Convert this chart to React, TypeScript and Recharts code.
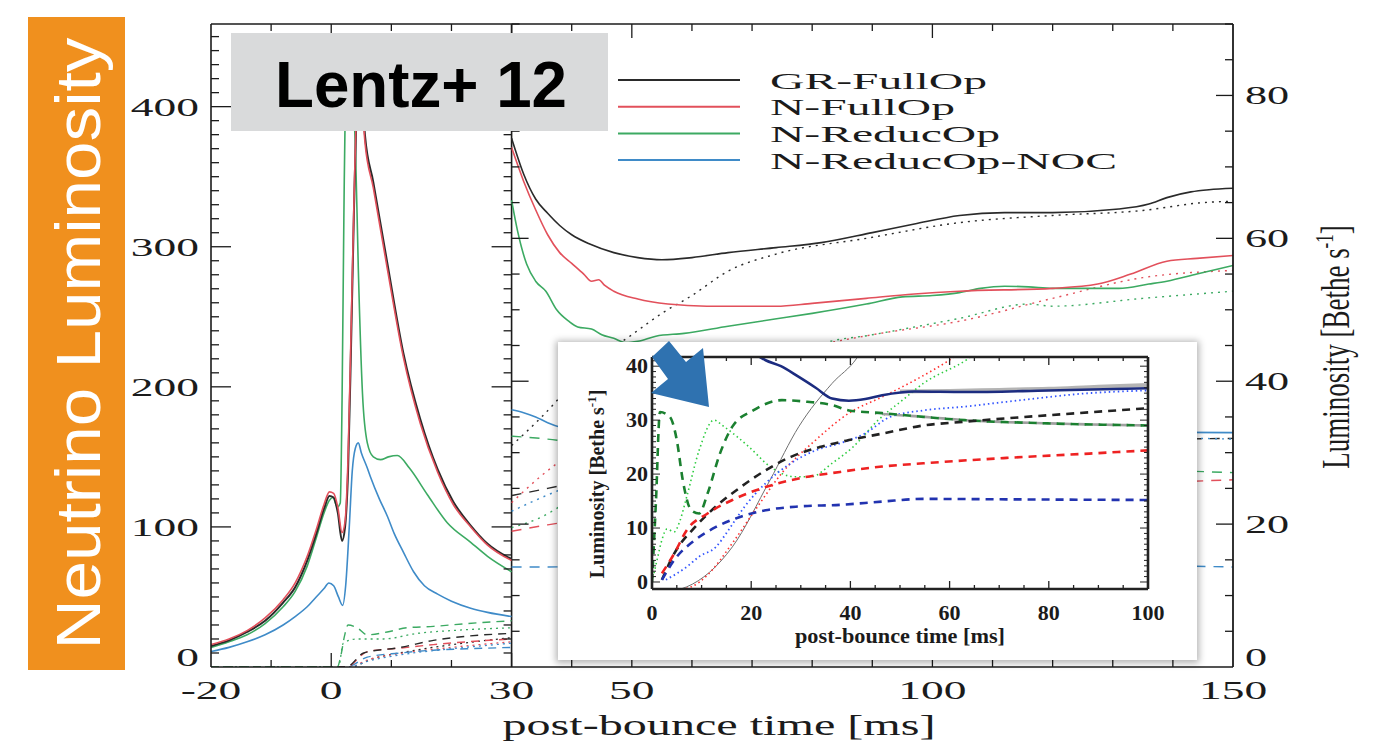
import React from 'react';
import { ComposedChart, LineChart, Line, XAxis, YAxis, ReferenceLine } from 'recharts';

type P = [number, number];

const SERIF = '"Liberation Serif", "Times New Roman", serif';
const SANS = '"Liberation Sans", Arial, Helvetica, sans-serif';
const INK = '#1b1b1b';

const C_BLACK = '#2a2a2a';
const C_RED = '#e2505b';
const C_GREEN = '#3caa62';
const C_BLUE = '#3f8bc8';

// legend
const LEGEND_NAMES = ['GR-FullOp', 'N-FullOp', 'N-ReducOp', 'N-ReducOp-NOC'];
const LEGEND_COLORS = [C_BLACK, C_RED, C_GREEN, C_BLUE];
const LEGEND_WIDTHS = [217, 185, 230, 347];

// axis ticks
const X_TICKS = [-20, -10, 0, 10, 20, 30, 40, 50, 60, 70, 80, 90, 100, 110, 120, 130, 140, 150];
const X_LABELS = [-20, 0, 30, 50, 100, 150];
const X_MAJOR = [0, 30, 50, 100];
const L_TICKS = Array.from({ length: 46 }, (_, i) => i * 10);
const L_LABELS = [0, 100, 200, 300, 400];
const R_TICKS = Array.from({ length: 19 }, (_, i) => i * 5);
const R_LABELS = [0, 20, 40, 60, 80];
const IN_X_TICKS = Array.from({ length: 21 }, (_, i) => i * 5);
const IN_X_LABELS = [0, 20, 40, 60, 80, 100];
const IN_Y_TICKS = Array.from({ length: 42 }, (_, i) => i);
const IN_Y_LABELS = [0, 10, 20, 30, 40];

// left panel, -20..30 ms (left axis)
const LP_GR_FULL: P[] = [[-20, 15], [-17, 19], [-14, 25], [-11, 33], [-8, 46], [-6, 57], [-4, 76], [-2.5, 95], [-1.2, 113], [-0.3, 122], [0.4, 121], [1.1, 110], [1.8, 90], [2.3, 100], [2.8, 140], [3.3, 230], [3.8, 330], [4.3, 410], [4.7, 440], [5.1, 415], [5.6, 380], [7, 346], [9.3, 289], [12, 224], [14.8, 177], [17.7, 141], [20.3, 118], [23.2, 101], [26, 88], [30, 77]];
const LP_N_FULL: P[] = [[-20, 16], [-17, 20], [-14, 26], [-11, 35], [-8, 48], [-6, 60], [-4, 79], [-2.5, 98], [-1.2, 116], [-0.3, 125], [0.4, 124], [1.1, 114], [1.8, 96], [2.3, 104], [2.8, 150], [3.3, 240], [3.8, 335], [4.3, 415], [4.7, 442], [5.1, 410], [5.6, 375], [7, 342], [9.3, 285], [12, 221], [14.8, 174], [17.7, 139], [20.3, 116], [23.2, 100], [26, 87], [30, 76]];
const LP_N_REDUC: P[] = [[-20, 14], [-17, 18], [-14, 23], [-11, 31], [-8, 43], [-6, 54], [-4, 72], [-2.5, 92], [-1.2, 110], [-0.3, 119], [0.3, 121], [1, 114], [1.5, 117], [1.8, 190], [2.1, 320], [2.4, 420], [2.8, 445], [3.2, 430], [3.6, 400], [4, 375], [4.5, 285], [5.2, 195], [6, 160], [7, 150], [8.2, 148], [9.5, 150], [11, 151], [13, 142], [16, 123], [19.3, 103], [23.2, 89], [26, 79], [30, 68]];
const LP_N_NOC: P[] = [[-20, 11], [-17, 14], [-14, 18], [-11, 23], [-8, 30], [-6, 36], [-4, 43], [-2.5, 50], [-1.2, 56], [-0.4, 60], [0.4, 58], [1.2, 50], [1.9, 44], [2.4, 58], [3, 100], [3.5, 140], [4, 156], [4.5, 160], [5, 153], [6, 142], [6.5, 136], [8, 120], [9.3, 108], [10.5, 95], [12, 82], [13.7, 68], [15.5, 58], [17.7, 52], [20, 47], [23.2, 42], [26, 39], [30, 36]];
const LP_GREEN_DASH: P[] = [[-20, 0], [1, 0], [1.6, 8], [2.2, 22], [2.8, 30], [4.3, 28], [6, 23], [9.3, 25], [12.6, 28], [17, 29], [22.6, 31], [30, 33]];
const LP_GREEN_DOT: P[] = [[-20, 0], [1.2, 0], [2, 17], [4.3, 20], [8.7, 20], [14.3, 24], [20, 26], [30, 28]];
const LP_BLACK_DASH: P[] = [[-20, 0], [2.5, 0], [5.4, 10], [11.5, 14], [17, 19], [22.6, 22], [30, 24]];
const LP_RED_DASH: P[] = [[-20, 0], [2.5, 0], [6, 11], [11.5, 13.5], [17, 16], [22.6, 18], [30, 20]];
const LP_BLUE_DASH: P[] = [[-20, 0], [2.5, 0], [6, 7], [11.5, 10], [17, 12], [22.6, 13], [30, 14]];
const LP_RED_DOT: P[] = [[-20, 0], [3, 0], [6, 5], [12, 10], [20, 14], [30, 18]];
const LP_BLUE_DOT: P[] = [[-20, 0], [3, 0], [6, 4], [12, 9], [20, 13], [30, 17]];
const LP_BLACK_DOT: P[] = [[-20, 0], [3, 0], [7, 6], [14, 12], [22, 17], [30, 21]];

// right panel, 30..150 ms (right axis, Bethe/s)
const RP_GR_FULL: P[] = [[30, 74], [32, 69], [34, 65.5], [36, 63.5], [38, 61.8], [40, 60.5], [43, 59.2], [47, 58], [51, 57.3], [55, 57], [60, 57.3], [66, 58], [74, 58.7], [81.5, 59.4], [90, 60.8], [97, 62], [104.5, 63.2], [112, 63.6], [120, 63.6], [131, 64.1], [136, 64.8], [139, 65.7], [143, 66.5], [146, 66.8], [150, 67]];
const RP_N_FULL: P[] = [[30, 72.7], [32, 68], [34, 64], [36, 60.5], [38, 58], [40, 56.5], [42, 55], [43.3, 54], [44.5, 54.2], [45.5, 53.4], [47, 52.6], [51, 51.5], [56, 50.8], [62.5, 50.5], [74, 50.5], [80, 50.9], [89, 51.6], [97, 52.2], [104.5, 52.6], [120, 53], [127.5, 53.6], [133, 55], [139, 56.8], [144, 57.2], [150, 57.6]];
const RP_N_REDUC: P[] = [[30, 65.3], [31, 61], [32.5, 56.4], [34, 54], [35.7, 52.6], [37.5, 50], [39.5, 48.4], [41, 47.6], [43.3, 47.3], [45, 46.5], [47, 46], [49, 45.4], [51, 45.6], [54, 46.3], [58.7, 46.7], [66, 47.7], [73.8, 48.7], [80, 49.5], [89, 50.8], [95, 51.8], [100, 52], [104.5, 52.4], [108, 53], [112, 53.3], [116, 53.2], [120, 53], [131, 53], [136, 53.6], [139, 54], [144, 55], [150, 56.2]];
const RP_N_NOC: P[] = [[30, 36], [32, 35.6], [34, 35], [36, 34.2], [38, 33.6], [40, 33.3], [45, 33.1], [60, 33], [100, 33], [150, 32.8]];
const RP_BLACK_DOT: P[] = [[30, 31], [35, 35], [40, 39.5], [45, 43.5], [50, 46.5], [55, 49.5], [60, 52], [66, 55.4], [74, 57.8], [89, 60], [104.5, 62.2], [120, 63.2], [135, 63.9], [145, 65], [150, 65.2]];
const RP_RED_DOT: P[] = [[30, 23], [35, 26.8], [40, 30], [50, 35.5], [60, 39], [70, 42], [80, 44.8], [90, 46.5], [104.5, 48.4], [120, 51.6], [135, 54.5], [150, 55.5]];
const RP_GREEN_DOT: P[] = [[30, 19.5], [35, 21], [40, 23.5], [50, 28], [60, 33], [70, 38], [81.5, 45.2], [90, 46.5], [104.5, 48.8], [116, 50.8], [120, 50.5], [135, 51.6], [150, 52.6]];
const RP_BLUE_DOT: P[] = [[30, 21.8], [37.5, 24.6], [50, 28], [70, 31], [100, 32.5], [150, 31.9]];
const RP_BLACK_DASH: P[] = [[30, 24], [36, 25], [50, 27.5], [70, 29.5], [100, 31], [150, 32]];
const RP_RED_DASH: P[] = [[30, 19], [36, 19.9], [50, 21.5], [70, 23], [100, 24.5], [150, 26.2]];
const RP_GREEN_DASH: P[] = [[30, 32.3], [36, 31.9], [50, 30], [70, 29], [100, 28.5], [150, 27.2]];
const RP_BLUE_DASH: P[] = [[30, 14], [36, 14], [50, 14.5], [100, 14.5], [150, 14]];

// inset, 0..100 ms
const IN_NAVY: P[] = [[18, 44], [22.9, 41.1], [26, 40], [29.6, 38], [33, 36], [36.3, 34], [39.7, 33.6], [43, 33.9], [46.4, 34.6], [53, 35.3], [63, 35.2], [80, 35.5], [100, 35.9]];
const IN_GRAY_THICK: P[] = [[50, 35.3], [60, 35.4], [70, 35.6], [80, 35.8], [90, 36.2], [100, 36.5]];
const IN_GRAY_THIN: P[] = [[5, -1.5], [7, -0.9], [16.2, 6.5], [23.8, 18.9], [29.6, 28.8], [36.3, 36.8], [41.3, 41.5], [43, 44]];
const IN_RED_DOT: P[] = [[6, -1.3], [7.9, -0.9], [11.2, 1.3], [16.2, 7.2], [21.3, 14], [26.2, 20.2], [33, 26.3], [39.7, 31.3], [46.4, 34.3], [53, 37.4], [60.6, 41.5], [63, 43]];
const IN_GREEN_DOT: P[] = [[0, 0], [1, 4], [2, 7.8], [3, 9.8], [4.5, 9.3], [5.5, 11], [7, 15.8], [9.5, 24.4], [12.5, 30], [14.5, 28.8], [19.6, 25], [23.8, 21.4], [28.8, 19.5], [32.1, 19.5], [36.3, 22], [40.5, 25], [45.6, 30], [50.5, 33.7], [54.7, 36.8], [63.9, 41.5], [66, 43]];
const IN_BLUE_DOT: P[] = [[2.8, 0.4], [7, 2.8], [9.5, 4.7], [12.9, 6.5], [15.4, 9.6], [18.7, 14], [22.9, 18.3], [28, 22], [33, 24.4], [37.9, 25.7], [42.9, 27.5], [48, 30.6], [54.7, 31.8], [63, 32.5], [71.5, 33.4], [88.2, 35], [100, 35.5]];
const IN_GREEN_DASH: P[] = [[0, 0], [0.8, 15], [1.6, 31.5], [3.6, 30.6], [5, 26.3], [6.2, 18.9], [7.9, 13.3], [9.5, 12.7], [11.2, 16.4], [13.7, 23.8], [16.2, 28.8], [20.4, 31.8], [26.2, 33.7], [31.3, 33.4], [36.3, 32.8], [39.7, 31.8], [46.4, 31.3], [54.7, 30.6], [63, 30], [79.8, 29.4], [100, 29]];
const IN_GRAY_DASH: P[] = [[45, 31.2], [55, 30.6], [63, 30], [80, 29.4], [100, 29]];
const IN_BLACK_DASH: P[] = [[2, 0.4], [4.5, 5.3], [8.7, 10.2], [12.9, 14], [17.9, 17.6], [22.9, 20.7], [28, 23.2], [33.8, 25], [39.7, 26.3], [46.4, 27.5], [54.7, 29], [63, 29.7], [79.8, 30.9], [100, 32.2]];
const IN_RED_DASH: P[] = [[2, 1.6], [4.5, 5.3], [7, 9.6], [11.2, 12.7], [16.2, 15.2], [22.9, 17.6], [29.6, 19.2], [37.9, 20.4], [46.4, 21.4], [54.7, 22], [71.5, 23], [88.2, 23.8], [100, 24.4]];
const IN_BLUE_DASH: P[] = [[2, 0.4], [4.5, 4.1], [8.7, 7.8], [12.9, 10.2], [17.9, 12.1], [22.9, 13.3], [29.6, 14], [37.9, 14.3], [46.4, 14.9], [54.7, 15.4], [75, 15.3], [100, 15.2]];

// layout
const W = 1380;
const H = 748;
const PLOT_L = 211;
const PLOT_R = 1233;
const PLOT_T = 24;
const PLOT_B = 667;
const X_MIN = -20;
const X_MAX = 150;
const DIV_X = PLOT_L + ((30 - X_MIN) / (X_MAX - X_MIN)) * (PLOT_R - PLOT_L);

const IN_LEFT = 558;
const IN_TOP = 342;
const IN_W = 639;
const IN_H = 318;

const toRows = (pts: P[]) => pts.map(([x, y]) => ({ x, y }));

type Series = { pts: P[]; axis: string; color: string; w: number; dash?: string; off?: number };

const MAIN_SERIES: Series[] = [
  { pts: LP_BLACK_DOT, axis: 'L', color: C_BLACK, w: 1.3, dash: '2 4' },
  { pts: LP_RED_DOT, axis: 'L', color: C_RED, w: 1.3, dash: '2 4' },
  { pts: LP_BLUE_DOT, axis: 'L', color: C_BLUE, w: 1.3, dash: '2 4' },
  { pts: LP_GREEN_DOT, axis: 'L', color: C_GREEN, w: 1.3, dash: '2 4' },
  { pts: LP_BLUE_DASH, axis: 'L', color: C_BLUE, w: 1.4, dash: '8 6' },
  { pts: LP_RED_DASH, axis: 'L', color: C_RED, w: 1.4, dash: '8 6' },
  { pts: LP_BLACK_DASH, axis: 'L', color: C_BLACK, w: 1.4, dash: '8 6' },
  { pts: LP_GREEN_DASH, axis: 'L', color: C_GREEN, w: 1.4, dash: '8 6' },
  { pts: LP_N_NOC, axis: 'L', color: C_BLUE, w: 1.6 },
  { pts: LP_N_REDUC, axis: 'L', color: C_GREEN, w: 1.6 },
  { pts: LP_GR_FULL, axis: 'L', color: C_BLACK, w: 2 },
  { pts: LP_N_FULL, axis: 'L', color: C_RED, w: 1.6 },
  { pts: RP_BLUE_DASH, axis: 'R', color: C_BLUE, w: 1.4, dash: '10 8' },
  { pts: RP_RED_DASH, axis: 'R', color: C_RED, w: 1.4, dash: '10 8' },
  { pts: RP_BLACK_DASH, axis: 'R', color: C_BLACK, w: 1.4, dash: '10 8' },
  { pts: RP_GREEN_DASH, axis: 'R', color: C_GREEN, w: 1.4, dash: '10 8' },
  { pts: RP_BLUE_DOT, axis: 'R', color: C_BLUE, w: 1.4, dash: '2 5' },
  { pts: RP_GREEN_DOT, axis: 'R', color: C_GREEN, w: 1.4, dash: '2 5' },
  { pts: RP_RED_DOT, axis: 'R', color: C_RED, w: 1.4, dash: '2 5' },
  { pts: RP_BLACK_DOT, axis: 'R', color: C_BLACK, w: 1.4, dash: '2 5' },
  { pts: RP_N_NOC, axis: 'R', color: C_BLUE, w: 1.6 },
  { pts: RP_N_REDUC, axis: 'R', color: C_GREEN, w: 1.6 },
  { pts: RP_N_FULL, axis: 'R', color: C_RED, w: 1.6 },
  { pts: RP_GR_FULL, axis: 'R', color: C_BLACK, w: 1.6 },
];

const INSET_SERIES: Series[] = [
  { pts: IN_GRAY_THICK, axis: 'l', color: '#b4b4b4', w: 4 },
  { pts: IN_GRAY_THIN, axis: 'l', color: '#707070', w: 1 },
  { pts: IN_RED_DOT, axis: 'l', color: '#ff3030', w: 1.6, dash: '1.5 3' },
  { pts: IN_GREEN_DOT, axis: 'l', color: '#2ecc40', w: 1.6, dash: '1.5 3' },
  { pts: IN_BLUE_DOT, axis: 'l', color: '#3355ff', w: 1.8, dash: '1.5 3' },
  { pts: IN_GRAY_DASH, axis: 'l', color: '#a0a0a0', w: 2.6, dash: '8 6', off: 7 },
  { pts: IN_GREEN_DASH, axis: 'l', color: '#1b8030', w: 2.6, dash: '8 6' },
  { pts: IN_BLACK_DASH, axis: 'l', color: '#222222', w: 2.6, dash: '8 6' },
  { pts: IN_RED_DASH, axis: 'l', color: '#ee2222', w: 2.6, dash: '8 6' },
  { pts: IN_BLUE_DASH, axis: 'l', color: '#2233b0', w: 2.6, dash: '8 6' },
  { pts: IN_NAVY, axis: 'l', color: '#1c2c80', w: 2.6 },
];

const BottomTick = (p: any) => {
  const v = p.payload.value;
  const edge = v === X_MIN || v === X_MAX;
  const len = X_MAJOR.includes(v) ? 14 : 7;
  return (
    <g>
      {!edge && <line x1={p.x} y1={p.y} x2={p.x} y2={p.y - len} stroke={INK} strokeWidth={1.3} />}
      {X_LABELS.includes(v) && (
        <text transform={`translate(${p.x},${p.y + 32}) scale(1.75,1)`} textAnchor="middle" fontFamily={SERIF} fontSize={26} fill={INK}>
          {v}
        </text>
      )}
    </g>
  );
};

const TopTick = (p: any) => {
  const v = p.payload.value;
  if (v === X_MIN || v === X_MAX) return <g />;
  const len = X_MAJOR.includes(v) ? 14 : 7;
  return <line x1={p.x} y1={p.y} x2={p.x} y2={p.y + len} stroke={INK} strokeWidth={1.3} />;
};

const LeftTick = (p: any) => {
  const v = p.payload.value;
  const len = v % 100 === 0 ? 20 : 8;
  return (
    <g>
      {v !== 0 && <line x1={p.x} y1={p.y} x2={p.x + len} y2={p.y} stroke={INK} strokeWidth={1.3} />}
      {v !== 0 && <line x1={DIV_X} y1={p.y} x2={DIV_X - len} y2={p.y} stroke={INK} strokeWidth={1.3} />}
      {L_LABELS.includes(v) && (
        <text transform={`translate(${p.x - 12},${p.y + 9 - (v === 0 ? 10 : 0)}) scale(1.75,1)`} textAnchor="end" fontFamily={SERIF} fontSize={26} fill={INK}>
          {v}
        </text>
      )}
    </g>
  );
};

const RightTick = (p: any) => {
  const v = p.payload.value;
  const len = v % 20 === 0 ? 17 : 8;
  return (
    <g>
      {v !== 0 && <line x1={p.x} y1={p.y} x2={p.x - len} y2={p.y} stroke={INK} strokeWidth={1.3} />}
      {v !== 0 && <line x1={DIV_X} y1={p.y} x2={DIV_X + len} y2={p.y} stroke={INK} strokeWidth={1.3} />}
      {R_LABELS.includes(v) && (
        <text transform={`translate(${p.x + 12},${p.y + 9 - (v === 0 ? 10 : 0)}) scale(1.7,1)`} textAnchor="start" fontFamily={SERIF} fontSize={26} fill={INK}>
          {v}
        </text>
      )}
    </g>
  );
};

const InBottomTick = (p: any) => {
  const v = p.payload.value;
  const len = v % 20 === 0 ? 8 : 4;
  return (
    <g>
      {v !== 0 && v !== 100 && <line x1={p.x} y1={p.y} x2={p.x} y2={p.y - len} stroke="#222" strokeWidth={1.3} />}
      {IN_X_LABELS.includes(v) && (
        <text transform={`translate(${p.x},${p.y + 31}) scale(1.1,1)`} textAnchor="middle" fontFamily={SERIF} fontSize={20} fontWeight="bold" fill={INK}>
          {v}
        </text>
      )}
    </g>
  );
};

const InTopTick = (p: any) => {
  const v = p.payload.value;
  if (v === 0 || v === 100) return <g />;
  const len = v % 20 === 0 ? 8 : 4;
  return <line x1={p.x} y1={p.y} x2={p.x} y2={p.y + len} stroke="#222" strokeWidth={1.3} />;
};

const InLeftTick = (p: any) => {
  const v = p.payload.value;
  const len = v % 10 === 0 ? 8 : 4;
  return (
    <g>
      <line x1={p.x} y1={p.y} x2={p.x + len} y2={p.y} stroke="#222" strokeWidth={1} />
      {IN_Y_LABELS.includes(v) && (
        <text transform={`translate(${p.x - 4},${p.y + 7}) scale(1.1,1)`} textAnchor="end" fontFamily={SERIF} fontSize={20} fontWeight="bold" fill={INK}>
          {v}
        </text>
      )}
    </g>
  );
};

const InRightTick = (p: any) => {
  const v = p.payload.value;
  const len = v % 10 === 0 ? 8 : 4;
  return <line x1={p.x} y1={p.y} x2={p.x - len} y2={p.y} stroke="#222" strokeWidth={1} />;
};

const renderLines = (list: Series[], xId: string) =>
  list.map((s, i) => (
    <Line
      key={i}
      data={toRows(s.pts)}
      dataKey="y"
      xAxisId={xId}
      yAxisId={s.axis}
      type="monotone"
      stroke={s.color}
      strokeWidth={s.w}
      strokeDasharray={s.dash}
      strokeDashoffset={s.off}
      dot={false}
      activeDot={false}
      isAnimationActive={false}
    />
  ));

const MainChart = () => (
  <ComposedChart width={W} height={H} margin={{ top: 0, right: 0, bottom: 0, left: 0 }}>
    <XAxis xAxisId="b" type="number" dataKey="x" domain={[X_MIN, X_MAX]} ticks={X_TICKS} interval={0} allowDataOverflow
      height={H - PLOT_B} tickSize={0} tickMargin={0} tickLine={false} axisLine={{ stroke: INK, strokeWidth: 1.6 }} tick={(p: any) => <BottomTick {...p} />} />
    <XAxis xAxisId="t" orientation="top" type="number" dataKey="x" domain={[X_MIN, X_MAX]} ticks={X_TICKS} interval={0} allowDataOverflow
      height={PLOT_T} tickSize={0} tickMargin={0} tickLine={false} axisLine={{ stroke: INK, strokeWidth: 1.6 }} tick={(p: any) => <TopTick {...p} />} />
    <YAxis yAxisId="L" orientation="left" type="number" domain={[0, 459]} ticks={L_TICKS} interval={0} allowDataOverflow
      width={PLOT_L} tickSize={0} tickMargin={0} tickLine={false} axisLine={{ stroke: INK, strokeWidth: 1.6 }} tick={(p: any) => <LeftTick {...p} />} />
    <YAxis yAxisId="R" orientation="right" type="number" domain={[0, 90]} ticks={R_TICKS} interval={0} allowDataOverflow
      width={W - PLOT_R} tickSize={0} tickMargin={0} tickLine={false} axisLine={{ stroke: INK, strokeWidth: 1.8 }} tick={(p: any) => <RightTick {...p} />} />
    <ReferenceLine xAxisId="b" yAxisId="L" x={30} stroke={INK} strokeWidth={1.6} />
    {renderLines(MAIN_SERIES, 'b')}
  </ComposedChart>
);

const InsetChart = () => (
  <LineChart width={IN_W} height={IN_H} margin={{ top: 0, right: 0, bottom: 0, left: 0 }}>
    <XAxis xAxisId="b" type="number" dataKey="x" domain={[0, 100]} ticks={IN_X_TICKS} interval={0} allowDataOverflow
      height={71} tickSize={0} tickMargin={0} tickLine={false} axisLine={{ stroke: '#222', strokeWidth: 2.6 }} tick={(p: any) => <InBottomTick {...p} />} />
    <XAxis xAxisId="t" orientation="top" type="number" dataKey="x" domain={[0, 100]} ticks={IN_X_TICKS} interval={0} allowDataOverflow
      height={15} tickSize={0} tickMargin={0} tickLine={false} axisLine={{ stroke: '#222', strokeWidth: 2.6 }} tick={(p: any) => <InTopTick {...p} />} />
    <YAxis yAxisId="l" orientation="left" type="number" domain={[-1.3, 41.7]} ticks={IN_Y_TICKS} interval={0} allowDataOverflow
      width={94} tickSize={0} tickMargin={0} tickLine={false} axisLine={{ stroke: '#222', strokeWidth: 2.6 }} tick={(p: any) => <InLeftTick {...p} />} />
    <YAxis yAxisId="r" orientation="right" type="number" domain={[-1.3, 41.7]} ticks={IN_Y_TICKS} interval={0} allowDataOverflow
      width={49} tickSize={0} tickMargin={0} tickLine={false} axisLine={{ stroke: '#222', strokeWidth: 2.6 }} tick={(p: any) => <InRightTick {...p} />} />
    {renderLines(INSET_SERIES, 'b')}
  </LineChart>
);

export default function App() {
  return (
    <div style={{ position: 'absolute', left: 0, top: 0, width: W, height: H, background: '#fff', overflow: 'hidden' }}>
      <MainChart />

      <svg width={W} height={H} style={{ position: 'absolute', left: 0, top: 0, pointerEvents: 'none' }}>
        {/* orange side label */}
        <rect x={28} y={17} width={97} height={653} fill="#f0901e" />
        <text transform="translate(100,343.5) rotate(-90)" textAnchor="middle" fontFamily={SANS} fontSize={63} fill="#fff"
          textLength={612} lengthAdjust="spacingAndGlyphs">
          Neutrino Luminosity
        </text>

        {/* citation tag */}
        <rect x={231} y={33} width={377} height={98} fill="#d9dadb" />
        <text x={421} y={107} textAnchor="middle" fontFamily={SANS} fontWeight="bold" fontSize={64} fill="#000"
          textLength={292} lengthAdjust="spacingAndGlyphs">
          Lentz+ 12
        </text>

        {/* legend */}
        {LEGEND_NAMES.map((name, i) => {
          const y = 80 + i * 26.7;
          return (
            <g key={name}>
              <line x1={618} x2={740} y1={y} y2={y} stroke={LEGEND_COLORS[i]} strokeWidth={2} />
              <text x={770} y={y + 8.5} fontFamily={SERIF} fontSize={24} fill={INK}
                textLength={LEGEND_WIDTHS[i]} lengthAdjust="spacingAndGlyphs">
                {name}
              </text>
            </g>
          );
        })}

        {/* axis titles */}
        <text x={719} y={735} textAnchor="middle" fontFamily={SERIF} fontSize={30} fill={INK}
          textLength={433} lengthAdjust="spacingAndGlyphs">
          post-bounce time [ms]
        </text>
        <text transform="translate(1349,347) rotate(-90) scale(1,1.5)" textAnchor="middle" fontFamily={SERIF} fontSize={27} fill={INK}>
          Luminosity [Bethe s<tspan fontSize={17} dy={-11}>-1</tspan><tspan dy={11}>]</tspan>
        </text>
      </svg>

      <div style={{ position: 'absolute', left: IN_LEFT, top: IN_TOP, width: IN_W, height: IN_H, background: '#fff',
        boxShadow: '0 1px 7px 2px rgba(0,0,0,0.3)' }}>
        <InsetChart />
        <svg width={IN_W} height={IN_H} style={{ position: 'absolute', left: 0, top: 0, pointerEvents: 'none' }}>
          <text x={342} y={301} textAnchor="middle" fontFamily={SERIF} fontSize={20} fontWeight="bold" fill={INK}
            textLength={210} lengthAdjust="spacingAndGlyphs">
            post-bounce time [ms]
          </text>
          <text transform="translate(46,142) rotate(-90)" textAnchor="middle" fontFamily={SERIF} fontSize={20} fontWeight="bold" fill={INK}>
            Luminosity [Bethe s<tspan fontSize={13} dy={-8}>-1</tspan><tspan dy={8}>]</tspan>
          </text>
        </svg>
      </div>

      <svg width={W} height={H} style={{ position: 'absolute', left: 0, top: 0, pointerEvents: 'none' }}>
        <polygon points="652,357 669,341 686,362 703,348 709,407 651,393 668,379" fill="#2f72b0" />
      </svg>
    </div>
  );
}
